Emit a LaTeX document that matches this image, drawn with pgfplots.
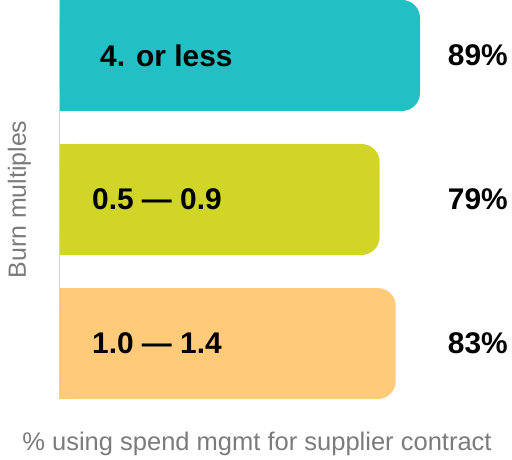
\documentclass[border=0pt]{standalone}
\usepackage{pgfplots}
\pgfplotsset{compat=1.18}
\usepackage{fontspec}
\setmainfont{Liberation Sans}
\definecolor{barteal}{HTML}{22C0C4}
\definecolor{barlime}{HTML}{D0D527}
\definecolor{barorange}{HTML}{FFCA7A}
\definecolor{labelgray}{HTML}{7B7B7B}
\definecolor{axisgray}{HTML}{D2D2DA}

\pgfplotsset{
    roundbar/.style={xbar, bar width=111bp, bar shift=0pt, draw=none, rounded corners=18bp},
    % square copy over the left half, so only the right end looks rounded
    squarebar/.style={xbar, bar width=111bp, bar shift=0pt, draw=none,
        x filter/.expression={0.5*x}},
}

\begin{document}
\begin{tikzpicture}
\path[use as bounding box] (-60bp,-61bp) rectangle (452bp,399bp);
\begin{axis}[
    scale only axis,
    width=452bp, height=399bp,
    xmin=0, xmax=111.74,
    ymin=-0.385, ymax=2.385,
    axis x line*=bottom,
    axis y line*=left,
    x axis line style={draw=none},
    y axis line style={draw=axisgray, line width=1bp},
    xtick=\empty,
    ytick=\empty,
    xlabel={\% using spend mgmt for supplier contract},
    ylabel={Burn multiples},
    every axis x label/.style={at={([xshift=197bp,yshift=-51bp]axis description cs:0,0)},
        anchor=base, font=\fontsize{25.6}{30}\selectfont, text=labelgray},
    every axis y label/.style={at={([xshift=-34bp]axis description cs:0,0.5)},
        rotate=90, anchor=base, font=\fontsize{25}{30}\selectfont, text=labelgray},
]
\addplot[roundbar, fill=barteal] coordinates {(89,2)};
\addplot[squarebar, fill=barteal] coordinates {(89,2)};
\addplot[roundbar, fill=barlime] coordinates {(79,1)};
\addplot[squarebar, fill=barlime] coordinates {(79,1)};
\addplot[roundbar, fill=barorange] coordinates {(83,0)};
\addplot[squarebar, fill=barorange] coordinates {(83,0)};
% category names inside the bars
\addplot[draw=none, mark=none, nodes near coords, point meta=explicit symbolic,
    nodes near coords style={anchor=west, inner sep=0pt,
        font=\fontsize{30}{36}\selectfont\bfseries}]
    coordinates {(9.9,2) [4. or less] (7.9,1) [0.5 — 0.9] (7.9,0) [1.0 — 1.4]};
% percentage labels at the right
\addplot[draw=none, mark=none, nodes near coords, point meta=explicit symbolic,
    nodes near coords style={anchor=east, inner sep=0pt,
        font=\fontsize{30}{36}\selectfont\bfseries}]
    coordinates {(110.75,2) [89\%] (110.75,1) [79\%] (110.75,0) [83\%]};
\end{axis}
\end{tikzpicture}
\end{document}
